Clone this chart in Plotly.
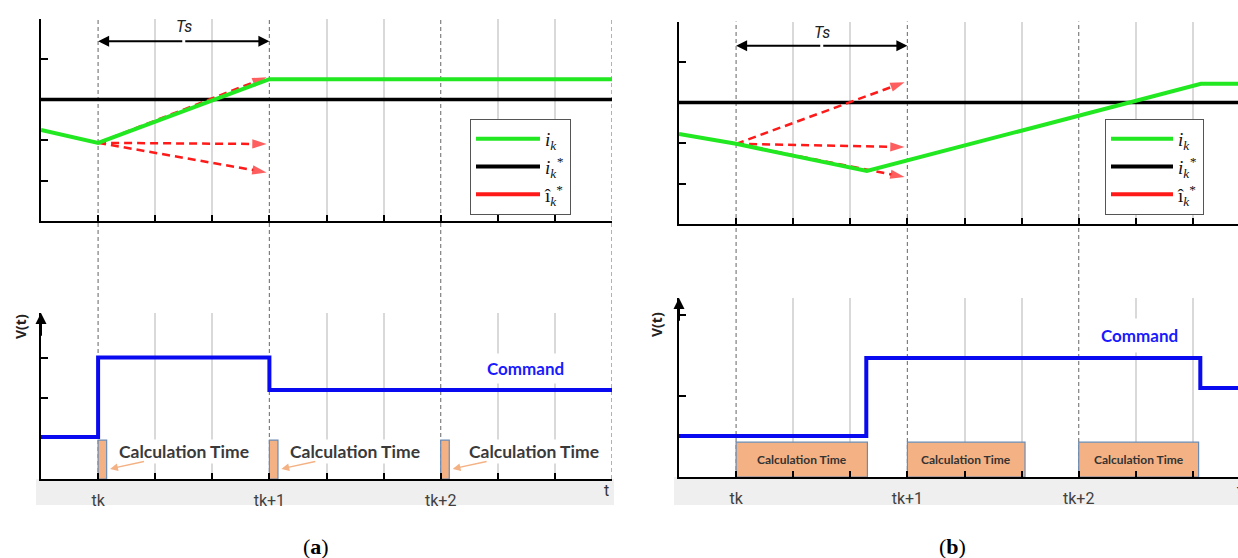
import plotly.graph_objects as go

W, H = 1238, 558

# ---------------- data ----------------
grid_t = [2, 3, 5, 6, 8, 9]            # light grey sub-divisions
sample_t = [1, 4, 7, 10]               # sampling instants (dashed)
sample_labels = ["tk", "tk+1", "tk+2", ""]

ref_t = [0, 10]
ref_i = [3.0, 3.0]                     # i_k* reference

# panel (a) - top
a_ik_t = [0, 1, 4, 10]
a_ik = [2.25, 1.93, 3.5, 3.5]
a_pred_start = 1.93
a_pred_end = [3.55, 1.9, 1.2]
# panel (b) - top
b_ik_t = [0, 1, 3.29, 9.14, 10]
b_ik = [2.22, 1.98, 1.31, 3.46, 3.46]
b_pred_start = 1.98
b_pred_end = [3.5, 1.9, 1.16]
pred_t = [1, 3.95]

# bottom - command voltage
a_cmd_t = [0, 1, 4, 10]
a_cmd = [1.04, 3.0, 2.2, 2.2]
b_cmd_t = [0, 3.28, 9.13, 10]
b_cmd = [1.01, 2.94, 2.2, 2.2]

# calculation time blocks
a_calc_start = [1, 4, 7]
a_calc_len = [0.15, 0.15, 0.15]
a_calc_h = 0.96
a_calc_text_x = [2.51, 5.5, 8.63]
b_calc_start = [1, 4, 7]
b_calc_len = [2.3, 2.06, 2.1]
b_calc_h = 0.86

# ---------------- styling ----------------
GREEN = "#22E822"
RED = "#FF1A1A"
BLUE = "#0A0AF0"
ORANGE = "#F4B183"
DASHGRAY = "#7F7F7F"

unit_x = (612 - 41) / 10.0
unit_y = 40.5

dom_xa = [41 / W, 612 / W]
dom_xb = [679 / W, 1.0]
range_xa = [0, 10]
range_xb = [0, (W - 679) / unit_x]

dom_y1 = [1 - 221 / H, 1 - (221 - 5 * unit_y) / H]
dom_y2 = [1 - 224 / H, 1 - (224 - 5 * unit_y) / H]
top3 = (479 - 313) / unit_y
top4 = (477 - 298) / unit_y
dom_y3 = [1 - 479 / H, 1 - 313 / H]
dom_y4 = [1 - 477 / H, 1 - 298 / H]

fig = go.Figure()

def add_top(xa, ya, ik_t, ik, pstart, pend, legend):
    fig.add_trace(go.Scatter(x=ref_t, y=ref_i, mode="lines", xaxis=xa, yaxis=ya,
                             line=dict(color="black", width=3.5), showlegend=False))
    for e in pend:
        fig.add_trace(go.Scatter(x=pred_t, y=[pstart, e], mode="lines+markers", xaxis=xa, yaxis=ya,
                                 line=dict(color=RED, width=2.5, dash="8px,5px"),
                                 marker=dict(symbol="arrow", angleref="previous", size=[0, 15], color=RED,
                                             line=dict(width=0)),
                                 showlegend=False))
    fig.add_trace(go.Scatter(x=ik_t, y=ik, mode="lines", xaxis=xa, yaxis=ya,
                             line=dict(color=GREEN, width=4), showlegend=False))
    # legend entries
    fig.add_trace(go.Scatter(x=[None], y=[None], mode="lines", xaxis=xa, yaxis=ya, legend=legend,
                             line=dict(color=GREEN, width=4), name="<i>i<sub>k</sub></i>"))
    fig.add_trace(go.Scatter(x=[None], y=[None], mode="lines", xaxis=xa, yaxis=ya, legend=legend,
                             line=dict(color="black", width=4), name="<i>i<sub>k</sub><sup>*</sup></i>"))
    fig.add_trace(go.Scatter(x=[None], y=[None], mode="lines", xaxis=xa, yaxis=ya, legend=legend,
                             line=dict(color=RED, width=4), name="î<sub><i>k</i></sub><sup>*</sup>"))

add_top("x", "y", a_ik_t, a_ik, a_pred_start, a_pred_end, "legend")
add_top("x2", "y2", b_ik_t, b_ik, b_pred_start, b_pred_end, "legend2")

# bottom panels: calc-time blocks then command
fig.add_trace(go.Bar(x=[s + w / 2 for s, w in zip(a_calc_start, a_calc_len)], y=[a_calc_h] * 3,
                     width=a_calc_len, base=0, xaxis="x3", yaxis="y3",
                     marker=dict(color=ORANGE, line=dict(color="#6A8CB4", width=1.2)), showlegend=False))
fig.add_trace(go.Bar(x=[s + w / 2 for s, w in zip(b_calc_start, b_calc_len)], y=[b_calc_h] * 3,
                     width=b_calc_len, base=0, xaxis="x4", yaxis="y4",
                     marker=dict(color=ORANGE, line=dict(color="#6A8CB4", width=1.2)), showlegend=False))
fig.add_trace(go.Scatter(x=a_cmd_t, y=a_cmd, mode="lines", line_shape="hv", xaxis="x3", yaxis="y3",
                         line=dict(color=BLUE, width=4), showlegend=False))
fig.add_trace(go.Scatter(x=b_cmd_t, y=b_cmd, mode="lines", line_shape="hv", xaxis="x4", yaxis="y4",
                         line=dict(color=BLUE, width=4), showlegend=False))

tickfont = dict(family="Roboto", size=16, color="#404040")

def xcfg(dom, rng, anchor, labels):
    return dict(domain=dom, range=rng, anchor=anchor, showline=True, linecolor="black", linewidth=2,
                ticks="inside", ticklen=6, tickwidth=2, tickcolor="black",
                tickvals=sample_t, ticktext=labels, tickfont=tickfont, ticklabelstandoff=6,
                showgrid=False, zeroline=False,
                minor=dict(tickvals=grid_t, ticks="inside", ticklen=6, tickwidth=2, tickcolor="black",
                           showgrid=True, gridcolor="#D9D9D9", gridwidth=1.5))

def ycfg(dom, rng, anchor, tv):
    return dict(domain=dom, range=rng, anchor=anchor, showline=True, linecolor="black", linewidth=2,
                ticks="inside", ticklen=7, tickwidth=2, tickcolor="black", tickvals=tv,
                showticklabels=False, showgrid=False, zeroline=False)

legfont = dict(family="Liberation Serif", size=19, color="#111111")
blank = [""] * 4
fig.update_layout(
    width=W, height=H, margin=dict(l=0, r=0, t=0, b=0),
    paper_bgcolor="white", plot_bgcolor="rgba(0,0,0,0)", barmode="overlay",
    xaxis=xcfg(dom_xa, range_xa, "y", blank),
    yaxis=ycfg(dom_y1, [0, 5], "x", [1, 2, 3, 4, 5]),
    xaxis2=xcfg(dom_xb, range_xb, "y2", blank),
    yaxis2=ycfg(dom_y2, [0, 5], "x2", [1, 2, 3, 4, 5]),
    xaxis3=xcfg(dom_xa, range_xa, "y3", sample_labels),
    yaxis3=ycfg(dom_y3, [0, top3], "x3", [2, 3]),
    xaxis4=xcfg(dom_xb, range_xb, "y4", sample_labels),
    yaxis4=ycfg(dom_y4, [0, top4], "x4", [2, 4]),
    legend=dict(x=470 / W, y=1 - 119 / H, xanchor="left", yanchor="top", bgcolor="white",
                bordercolor="#555555", borderwidth=1, itemwidth=64, tracegroupgap=0, font=legfont),
    legend2=dict(x=1105 / W, y=1 - 119 / H, xanchor="left", yanchor="top", bgcolor="white",
                 bordercolor="#555555", borderwidth=1, itemwidth=62, tracegroupgap=0, font=legfont),
)

shapes = []
# grey band under the bottom time axes
shapes.append(dict(type="rect", xref="paper", yref="paper", x0=36 / W, x1=614 / W,
                   y0=1 - 505 / H, y1=dom_y3[0], fillcolor="#EFEFEF", line=dict(width=0), layer="below"))
shapes.append(dict(type="rect", xref="paper", yref="paper", x0=674 / W, x1=1.0,
                   y0=1 - 505 / H, y1=dom_y4[0], fillcolor="#EFEFEF", line=dict(width=0), layer="below"))
# dashed sampling instants spanning both panels
for t in sample_t:
    shapes.append(dict(type="line", xref="x", yref="paper", x0=t, x1=t, y0=dom_y3[0], y1=dom_y1[1],
                       line=dict(color=DASHGRAY, width=1.2, dash="4px,3px"), layer="below"))
    if t <= range_xb[1]:
        shapes.append(dict(type="line", xref="x2", yref="paper", x0=t, x1=t, y0=dom_y4[0], y1=dom_y2[1],
                           line=dict(color=DASHGRAY, width=1.2, dash="4px,3px"), layer="below"))
fig.update_layout(shapes=shapes)

ann = []
# Ts double arrows
for xa, ya, yv, ylab in (("x", "y", 4.44, 4.8), ("x2", "y2", 4.4, 4.72)):
    for end in (sample_t[0], sample_t[1]):
        ann.append(dict(x=end, y=yv, ax=(sample_t[0] + sample_t[1]) / 2, ay=yv, xref=xa, yref=ya,
                        axref=xa, ayref=ya, showarrow=True, arrowhead=2, arrowsize=1.1, arrowwidth=2,
                        arrowcolor="black", text="", standoff=0))
    ann.append(dict(x=(sample_t[0] + sample_t[1]) / 2, y=ylab, xref=xa, yref=ya, showarrow=False,
                    text="<i>Ts</i>", font=dict(family="Roboto", size=16, color="#222")))
# V(t) axis arrows
for xa, ya, top in (("x3", "y3", top3), ("x4", "y4", top4)):
    ann.append(dict(x=0, y=top, ax=0, ay=top - 0.6, xref=xa, yref=ya, axref=xa, ayref=ya,
                    showarrow=True, arrowhead=2, arrowsize=1.1, arrowwidth=2, arrowcolor="black",
                    text="", standoff=0))
# Calculation Time labels (a)
for tx in a_calc_text_x:
    ann.append(dict(x=tx, y=0.67, xref="x3", yref="y3", showarrow=False, text="<b>Calculation Time</b>",
                    font=dict(family="Lato", size=17.5, color="#3A3A3A"), bgcolor="white", borderpad=1))
for s in a_calc_start:
    ann.append(dict(x=s + 0.21, y=0.25, ax=s + 0.83, ay=0.44, xref="x3", yref="y3", axref="x3", ayref="y3",
                    showarrow=True, arrowhead=2, arrowsize=1.2, arrowwidth=1.3, arrowcolor=ORANGE,
                    text="", standoff=0))
# Calculation Time labels (b)
for s, w in zip(b_calc_start, b_calc_len):
    ann.append(dict(x=s + w / 2, y=b_calc_h / 2, xref="x4", yref="y4", showarrow=False,
                    text="<b>Calculation Time</b>", font=dict(family="Lato", size=12, color="#333")))
# Command labels
ann.append(dict(x=8.48, y=2.72, xref="x3", yref="y3", showarrow=False, text="<b>Command</b>",
                font=dict(family="Lato", size=17, color="#1A1AFF"), bgcolor="white", borderpad=4))
ann.append(dict(x=8.07, y=3.5, xref="x4", yref="y4", showarrow=False, text="<b>Command</b>",
                font=dict(family="Lato", size=17, color="#1A1AFF"), bgcolor="white", borderpad=6))

def paper_text(px, py, text, font, angle=0):
    return dict(x=px / W, y=1 - py / H, xref="paper", yref="paper", showarrow=False, text=text,
                xanchor="center", yanchor="middle", textangle=angle, font=font)

vfont = dict(family="Open Sans", size=14, color="#222")
ann.append(paper_text(20, 327, "<b>V(t)</b>", vfont, -90))
ann.append(paper_text(656, 325, "<b>V(t)</b>", vfont, -90))
tfont = dict(family="Roboto", size=16, color="#333")
ann.append(paper_text(606, 490, "t", tfont))
ann.append(paper_text(1239, 490, "t", tfont))
capfont = dict(family="Liberation Serif", size=22, color="black")
ann.append(paper_text(316, 546, "(<b>a</b>)", capfont))
ann.append(paper_text(952, 546, "(<b>b</b>)", capfont))
fig.update_layout(annotations=ann)

fig.write_html("out.html", config={"displayModeBar": False},
               post_script="document.body.style.margin='0';document.body.style.overflow='hidden';")
